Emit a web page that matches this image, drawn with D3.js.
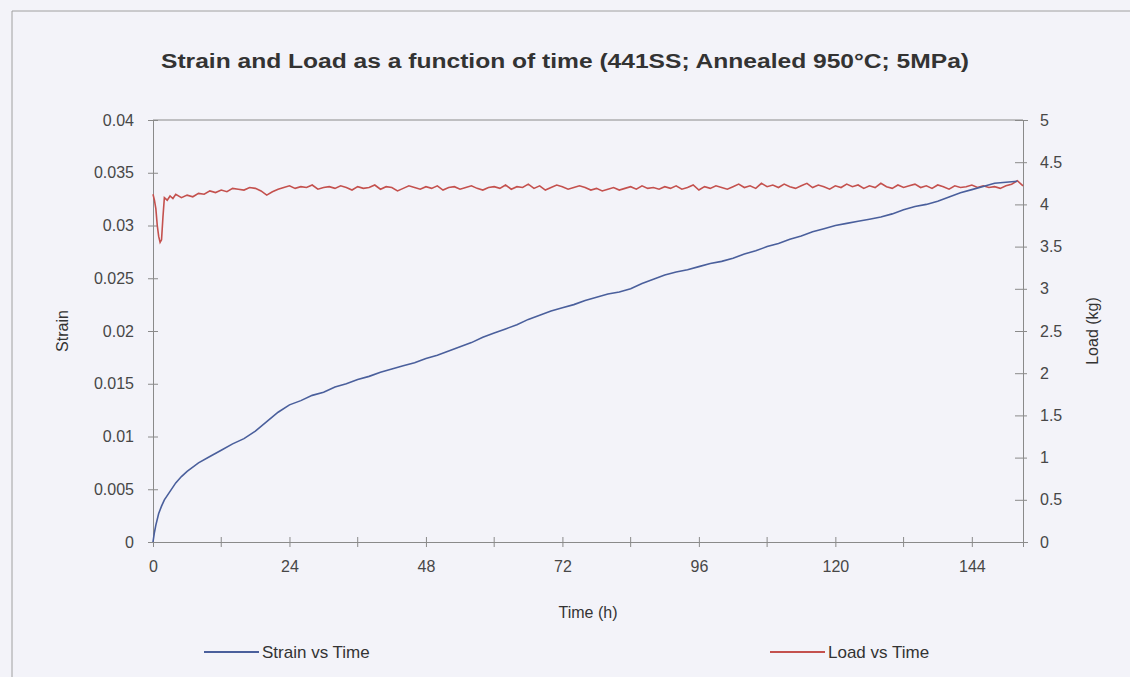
<!DOCTYPE html>
<html>
<head>
<meta charset="utf-8">
<script src="https://cdn.jsdelivr.net/npm/d3@7"></script>
<style>
  body { margin: 0; background: #f3f3f9; }
  svg { display: block; font-family: "Liberation Sans", Arial, sans-serif; }
</style>
</head>
<body>
<div id="chart"></div>
<script>
// Strain (left axis) and load (right axis) against time in hours
const strainTime = [0, 0.25, 0.5, 1, 1.5, 2, 3, 4, 5, 6, 8, 10, 12, 14, 16, 18, 20, 22, 24,
  26, 28, 30, 32, 34, 36, 38, 40, 42, 44, 46, 48, 50, 52, 54, 56, 58, 60, 62, 64, 66, 68, 70, 72,
  74, 76, 78, 80, 82, 84, 86, 88, 90, 92, 94, 96, 98, 100, 102, 104, 106, 108, 110, 112, 114, 116,
  118, 120, 122, 124, 126, 128, 130, 132, 134, 136, 138, 140, 142, 144, 146, 148, 150, 152];
const strainValues = [0, 0.0009, 0.0016, 0.0027, 0.0034, 0.004, 0.0048, 0.0056, 0.0062, 0.0067,
  0.0075, 0.0081, 0.0087, 0.0093, 0.0098, 0.0105, 0.0114, 0.0123, 0.013,
  0.0134, 0.0139, 0.0142, 0.0147, 0.015, 0.0154, 0.0157, 0.0161, 0.0164, 0.0167, 0.017, 0.0174,
  0.0177, 0.0181, 0.0185, 0.0189, 0.0194, 0.0198, 0.0202, 0.0206, 0.0211, 0.0215, 0.0219, 0.0222,
  0.0225, 0.0229, 0.0232, 0.0235, 0.0237, 0.024, 0.0245, 0.0249, 0.0253, 0.0256, 0.0258, 0.0261,
  0.0264, 0.0266, 0.0269, 0.0273, 0.0276, 0.028, 0.0283, 0.0287, 0.029, 0.0294, 0.0297, 0.03,
  0.0302, 0.0304, 0.0306, 0.0308, 0.0311, 0.0315, 0.0318, 0.032, 0.0323, 0.0327, 0.0331, 0.0334,
  0.0337, 0.034, 0.0341, 0.0342];

const loadTime = [0, 0.25, 0.5, 0.75, 1, 1.25, 1.5, 1.75, 2, 2.5, 3, 3.5, 4,
  5, 6, 7, 8, 9, 10, 11, 12, 13, 14, 15,
  16, 17, 18, 19, 20, 21, 22, 23, 24, 25, 26, 27, 28, 29, 30,
  31, 32, 33, 34, 35, 36, 37, 38, 39, 40, 41, 42, 43, 44, 45,
  46, 47, 48, 49, 50, 51, 52, 53, 54, 55, 56, 57, 58, 59, 60,
  61, 62, 63, 64, 65, 66, 67, 68, 69, 70, 71, 72, 73, 74, 75,
  76, 77, 78, 79, 80, 81, 82, 83, 84, 85, 86, 87, 88, 89, 90,
  91, 92, 93, 94, 95, 96, 97, 98, 99, 100, 101, 102, 103, 104, 105,
  106, 107, 108, 109, 110, 111, 112, 113, 114, 115, 116, 117, 118, 119, 120,
  121, 122, 123, 124, 125, 126, 127, 128, 129, 130, 131, 132, 133, 134, 135,
  136, 137, 138, 139, 140, 141, 142, 143, 144, 145, 146, 147, 148, 149, 150,
  151, 152, 153];
const loadValues = [4.12, 4.05, 3.95, 3.75, 3.62, 3.55, 3.58, 3.85, 4.08, 4.05, 4.1, 4.07, 4.12,
  4.08, 4.11, 4.09, 4.13, 4.12, 4.16, 4.14, 4.17, 4.15, 4.19, 4.18,
  4.17, 4.2, 4.19, 4.16, 4.11, 4.15, 4.18, 4.2, 4.22, 4.19, 4.21, 4.2, 4.23, 4.18, 4.2,
  4.21, 4.19, 4.22, 4.2, 4.17, 4.21, 4.19, 4.2, 4.23, 4.18, 4.21, 4.2, 4.16, 4.19, 4.22,
  4.2, 4.18, 4.21, 4.19, 4.22, 4.17, 4.2, 4.21, 4.18, 4.2, 4.22, 4.19, 4.17, 4.2, 4.21,
  4.19, 4.23, 4.18, 4.21, 4.2, 4.24, 4.19, 4.22, 4.17, 4.2, 4.23, 4.21, 4.18, 4.2, 4.22,
  4.2, 4.17, 4.19, 4.16, 4.18, 4.2, 4.17, 4.19, 4.21, 4.18, 4.22, 4.19, 4.2, 4.18, 4.21,
  4.19, 4.22, 4.18, 4.2, 4.23, 4.17, 4.21, 4.19, 4.22, 4.2, 4.18, 4.21, 4.24, 4.2, 4.22,
  4.19, 4.25, 4.21, 4.23, 4.2, 4.24, 4.21, 4.19, 4.22, 4.25, 4.2, 4.23, 4.21, 4.18, 4.22,
  4.2, 4.24, 4.21, 4.23, 4.19, 4.22, 4.2, 4.25, 4.21, 4.19, 4.23, 4.2, 4.22, 4.24, 4.2,
  4.22, 4.19, 4.23, 4.21, 4.18, 4.22, 4.2, 4.21, 4.23, 4.2, 4.22, 4.2, 4.21, 4.19, 4.22,
  4.24, 4.28, 4.22];

const timeLabels = [0, 24, 48, 72, 96, 120, 144];
const timeMinorTicks = [12, 36, 60, 84, 108, 132];
const strainTicks = [0, 0.005, 0.01, 0.015, 0.02, 0.025, 0.03, 0.035, 0.04];
const loadTicks = [0, 0.5, 1, 1.5, 2, 2.5, 3, 3.5, 4, 4.5, 5];

const width = 1130, height = 677;
const margin = {top: 120, left: 153, right: 107, bottom: 135};
const innerWidth = width - margin.left - margin.right;
const innerHeight = height - margin.top - margin.bottom;

const strainColor = "#4a5f9c";
const loadColor = "#c4514e";
const axisColor = "#8a8a8a";
const textColor = "#474747";
const fontFamily = "'Liberation Sans', Arial, sans-serif";

const svg = d3.select("#chart")
  .append("svg")
    .attr("width", width)
    .attr("height", height);

// outer chart border, only the top and left edges are in the picture
svg.append("path")
  .attr("d", `M12,${height} V11 H${width}`)
  .attr("fill", "none")
  .attr("stroke", "#a0a0a0")
  .attr("stroke-width", 1);

svg.append("text")
  .attr("x", 565).attr("y", 68)
  .attr("text-anchor", "middle")
  .attr("font-size", 20)
  .attr("font-weight", "bold")
  .attr("fill", "#333")
  .attr("textLength", 808)
  .attr("lengthAdjust", "spacingAndGlyphs")
  .text("Strain and Load as a function of time (441SS; Annealed 950°C; 5MPa)");

const innerChart = svg.append("g")
  .attr("transform", `translate(${margin.left}, ${margin.top})`);

// scales
const xScale = d3.scaleLinear().domain([0, 153]).range([0, innerWidth]);
const yStrain = d3.scaleLinear().domain([0, 0.04]).range([innerHeight, 0]);
const yLoad = d3.scaleLinear().domain([0, 5]).range([innerHeight, 0]);

// plot area top border
innerChart.append("line")
  .attr("x1", 0).attr("x2", innerWidth)
  .attr("y1", 0).attr("y2", 0)
  .attr("stroke", axisColor);

// axes
const bottomAxis = d3.axisBottom(xScale)
  .tickValues(timeLabels)
  .tickSize(5)
  .tickPadding(14);
const leftAxis = d3.axisLeft(yStrain)
  .tickValues(strainTicks)
  .tickSize(5)
  .tickPadding(14)
  .tickFormat(d => d3.format("")(+d.toFixed(3)));
const rightAxis = d3.axisRight(yLoad)
  .tickValues(loadTicks)
  .tickSize(5)
  .tickPadding(12)
  .tickFormat(d => d);

const styleAxis = (g, cross) => {
  g.attr("font-size", 16).attr("font-family", fontFamily);
  g.select(".domain").attr("stroke", axisColor);
  g.selectAll(".tick line").attr("stroke", axisColor);
  g.selectAll(".tick text").attr("fill", textColor);
  cross(g.selectAll(".tick line"));
};

const xAxisG = innerChart.append("g")
  .attr("class", "axis-x")
  .attr("transform", `translate(0, ${innerHeight})`)
  .call(bottomAxis)
  .call(g => styleAxis(g, l => l.attr("y1", -5).attr("y2", 5)));

// unlabelled ticks every 12 h between the labelled ones
xAxisG.selectAll(".minor-tick")
  .data(timeMinorTicks)
  .enter()
  .append("line")
    .attr("class", "minor-tick")
    .attr("x1", d => xScale(d)).attr("x2", d => xScale(d))
    .attr("y1", -5).attr("y2", 5)
    .attr("stroke", axisColor);

innerChart.append("g")
  .attr("class", "axis-y")
  .call(leftAxis)
  .call(g => styleAxis(g, l => l.attr("x1", 5).attr("x2", -5)));

innerChart.append("g")
  .attr("class", "axis-y2")
  .attr("transform", `translate(${innerWidth}, 0)`)
  .call(rightAxis)
  .call(g => styleAxis(g, l => l.attr("x1", -8).attr("x2", 4)));

// axis titles
svg.append("text")
  .attr("x", margin.left + innerWidth / 2).attr("y", 618)
  .attr("text-anchor", "middle")
  .attr("font-size", 16)
  .attr("fill", "#333")
  .text("Time (h)");

svg.append("text")
  .attr("transform", `translate(68, ${margin.top + innerHeight / 2}) rotate(-90)`)
  .attr("text-anchor", "middle")
  .attr("font-size", 16)
  .attr("fill", "#333")
  .text("Strain");

svg.append("text")
  .attr("transform", `translate(1098, ${margin.top + innerHeight / 2}) rotate(-90)`)
  .attr("text-anchor", "middle")
  .attr("font-size", 16)
  .attr("fill", "#333")
  .text("Load (kg)");

// lines
const strainLine = d3.line()
  .x((d, i) => xScale(strainTime[i]))
  .y(d => yStrain(d));
const loadLine = d3.line()
  .x((d, i) => xScale(loadTime[i]))
  .y(d => yLoad(d));

innerChart.append("path")
  .datum(loadValues)
  .attr("d", loadLine)
  .attr("fill", "none")
  .attr("stroke", loadColor)
  .attr("stroke-width", 1.6);

innerChart.append("path")
  .datum(strainValues)
  .attr("d", strainLine)
  .attr("fill", "none")
  .attr("stroke", strainColor)
  .attr("stroke-width", 1.6);

// legend
const legendItems = [
  {name: "Strain vs Time", color: strainColor, x: 204},
  {name: "Load vs Time", color: loadColor, x: 770}
];
const legend = svg.selectAll(".legend")
  .data(legendItems)
  .enter()
  .append("g")
    .attr("class", "legend")
    .attr("transform", d => `translate(${d.x}, 652)`);
legend.append("line")
  .attr("x1", 0).attr("x2", 55)
  .attr("stroke", d => d.color)
  .attr("stroke-width", 2);
legend.append("text")
  .attr("x", 58).attr("y", 6)
  .attr("font-size", 17)
  .attr("fill", "#333")
  .text(d => d.name);
</script>
</body>
</html>
